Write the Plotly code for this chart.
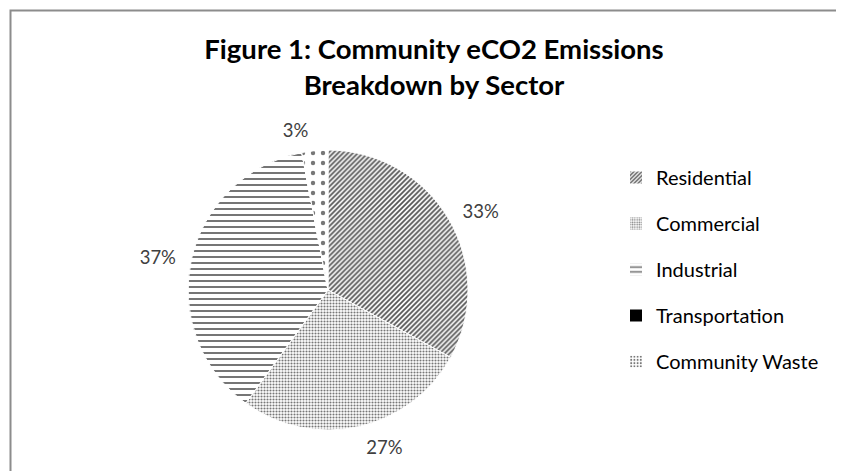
import plotly.graph_objects as go

sectors = ["Residential", "Commercial", "Industrial", "Transportation", "Community Waste"]
shares = [33, 27, 37, 0, 3]
pattern_shapes = ["/", ".", "-", "", "."]
pattern_fg = ["#555555", "#777777", "#666666", "#000000", "#777777"]
pattern_size = [3.5, 3, 6, 8, 10]
pattern_solid = [0.5, 0.4, 0.3, 1.0, 0.15]
fill_colors = ["white", "white", "white", "black", "white"]
labels_text = [f"{v}%" if v else "" for v in shares]

W, H = 844, 471
OFF = 8  # page body offset
def px_x(x): return (x - OFF) / W
def px_y(y): return 1 - (y - OFF) / H

fig = go.Figure()

# main patterned pie
fig.add_trace(go.Pie(
    labels=sectors, values=shares, sort=False, direction="clockwise", rotation=0,
    marker=dict(colors=fill_colors, line=dict(color="white", width=1),
                pattern=dict(shape=pattern_shapes, fgcolor=pattern_fg, bgcolor=fill_colors,
                             size=pattern_size, solidity=pattern_solid, fillmode="replace")),
    textinfo="none", showlegend=False,
    domain=dict(x=[px_x(187), px_x(469)], y=[px_y(430), px_y(150)]),
))

# label ring (transparent) placing percentages a bit away from the pie
fig.add_trace(go.Pie(
    labels=sectors, values=shares, sort=False, direction="clockwise", rotation=0,
    marker=dict(colors=["rgba(0,0,0,0)"] * len(sectors), line=dict(width=0)),
    text=labels_text, textinfo="text", textposition="outside",
    outsidetextfont=dict(family="Lato, sans-serif", size=18.5, color="#404040"),
    showlegend=False, hoverinfo="skip",
    domain=dict(x=[px_x(178), px_x(478)], y=[px_y(440), px_y(140)]),
))

# legend entries
for i, s in enumerate(sectors):
    fig.add_trace(go.Bar(
        x=[None], y=[None], name=s, legendgroup=s,
        marker=dict(color=fill_colors[i], line=dict(width=0),
                    pattern=dict(shape=pattern_shapes[i], fgcolor=pattern_fg[i],
                                 bgcolor=fill_colors[i], size=pattern_size[i] if i != 4 else 4,
                                 solidity=pattern_solid[i] if i != 4 else 0.3, fillmode="replace")),
    ))

fig.update_layout(
    width=W, height=H,
    margin=dict(l=0, r=0, t=0, b=0),
    paper_bgcolor="white", plot_bgcolor="white",
    title=dict(text="<b>Figure 1: Community eCO2 Emissions<br>Breakdown by Sector</b>",
               x=px_x(434), xanchor="center", y=px_y(59), yanchor="top",
               font=dict(family="Lato, sans-serif", size=27.5, color="black")),
    legend=dict(x=px_x(616), xanchor="left", y=px_y(158), yanchor="top",
                font=dict(family="Lato, sans-serif", size=20, color="black"),
                tracegroupgap=17, bgcolor="rgba(0,0,0,0)"),
    xaxis=dict(visible=False), yaxis=dict(visible=False),
    shapes=[dict(type="rect", xref="paper", yref="paper",
                 x0=px_x(10.5), x1=1.05, y0=-0.05, y1=px_y(10.5),
                 line=dict(color="#8c8c8c", width=2), fillcolor="rgba(0,0,0,0)")],
    showlegend=True,
)

fig.write_html("out.html")
